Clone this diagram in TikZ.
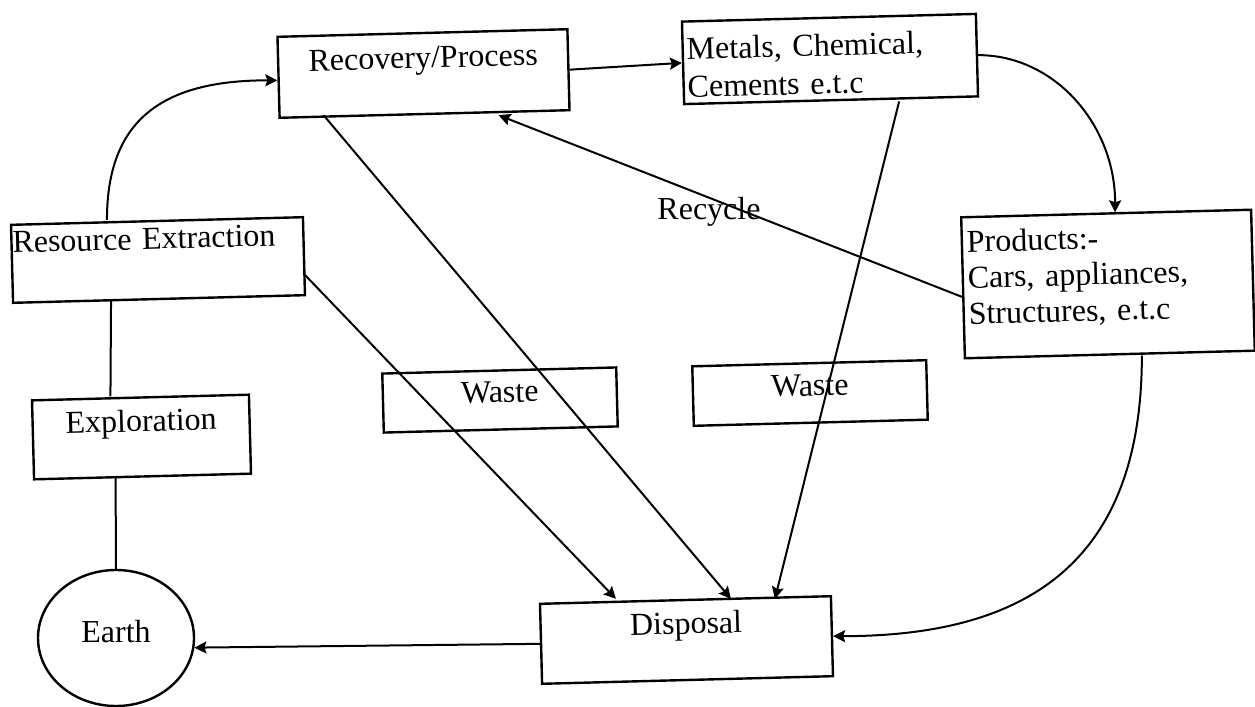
\documentclass[tikz,border=0pt]{standalone}
\usepackage{fontspec}
\setmainfont{Liberation Serif}
\usetikzlibrary{shapes.geometric,arrows.meta,calc}
\begin{document}
\begin{tikzpicture}[x=0.5pt,y=-0.5pt,
  every node/.style={font=\fontsize{16}{19}\selectfont},
  box/.style={draw, line width=1.2pt, rectangle, inner ysep=0pt, inner xsep=0pt, rotate=1.5},
  conn/.style={line width=1pt, -{Stealth[length=6pt,width=6pt,inset=1pt]}},
  plain/.style={line width=1pt}]
\useasboundingbox (0,0) rectangle (1255,707);

\node[box, minimum width=145pt, text height=17.5pt, text depth=23pt] (rec) at (423.5,73.5) {Recovery/Process};
\node[box, text width=143pt, inner xsep=2pt, align=left, text height=19pt, text depth=22.25pt] (met) at (830,59) {Metals, Chemical,\\Cements e.t.c};
\node[box, text width=145pt, inner xsep=0.5pt, align=left, text height=14pt, text depth=25pt] (res) at (158,260) {Resource Extraction};
\node[box, text width=140pt, inner xsep=2.5pt, align=left, text height=17.5pt, text depth=53pt, font=\fontsize{16}{18}\selectfont] (prod) at (1108,284) {Products:-\\Cars, appliances,\\Structures, e.t.c};
\node[box, minimum width=108.5pt, text height=17pt, text depth=22.5pt] (expl) at (141.5,437) {Exploration};
\node[box, minimum width=117pt, text height=16pt, text depth=13.5pt] (w1) at (500,400) {Waste};
\node[box, minimum width=117pt, text height=16.25pt, text depth=13.5pt] (w2) at (810,393) {Waste};
\node[box, minimum width=145.5pt, text height=17pt, text depth=23pt] (disp) at (686.5,640) {Disposal};
\node[draw, line width=1.2pt, ellipse, minimum width=78pt, minimum height=68pt, inner sep=0pt, text height=11pt, text depth=7pt] (earth) at (116,638) {Earth};
\node (rcy) at (709,212) {Recycle};

\draw[conn] ($(res.north)+(-50,0)$) .. controls +(0,-100) and +(-115,0) .. ($(rec.west)+(0,3)$);
\draw[conn] (rec.east) -- (met.west);
\draw[conn] (met.east) .. controls +(77,0) and +(0,-87) .. ($(prod.north)+(9,0)$);
\draw[conn] ($(prod.west)+(0,9)$) -- ($(rec.south)+(74,0)$);
\draw[conn] ($(prod.south)+(32,0)$) .. controls +(0,210) and +(190,0) .. (disp.east);
\draw[conn] ($(res.east)+(0,19)$) -- ($(disp.north)+(-69.5,0)$);
\draw[conn] ($(rec.south)+(-101,0)$) -- ($(disp.north)+(45.5,0)$);
\draw[conn] ($(met.south)+(68,0)$) -- ($(disp.north)+(89.5,0)$);
\draw[conn] (disp.west) -- (earth.-7);
\draw[plain] ($(res.south)+(-48,0)$) -- ($(expl.north)+(-30,0)$);
\draw[plain] ($(expl.south)+(-27,0)$) -- (earth.north);
\end{tikzpicture}
\end{document}
